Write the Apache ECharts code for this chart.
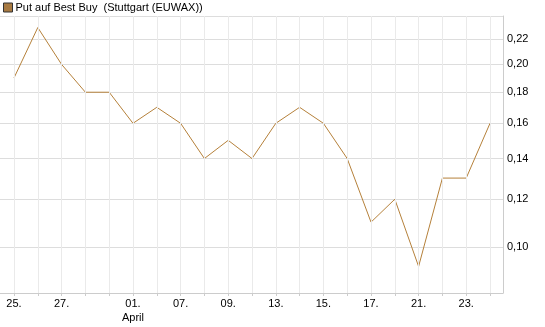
<!DOCTYPE html>
<html>
<head>
<meta charset="utf-8">
<script src="https://cdn.jsdelivr.net/npm/echarts@6/dist/echarts.min.js"></script>
<style>
  html, body { margin: 0; padding: 0; background: #fff; }
  #chart { width: 545px; height: 327px; }
</style>
</head>
<body>
<div id="chart"></div>
<script>
// Handelstage 25.03. - 24.04.
const days = ['25.', '26.', '27.', '30.', '31.', '01.', '02.', '07.', '08.', '09.', '10.',
  '13.', '14.', '15.', '16.', '17.', '20.', '21.', '22.', '23.', '24.'];
const prices = [0.19, 0.23, 0.20, 0.18, 0.18, 0.16, 0.17, 0.16, 0.14, 0.15, 0.14,
  0.16, 0.17, 0.16, 0.14, 0.11, 0.12, 0.093, 0.13, 0.13, 0.16];
// beschriftete Tage (Index in days)
const labelIdx = [0, 2, 5, 7, 9, 11, 13, 15, 17, 19];
const yTicks = [0.10, 0.12, 0.14, 0.16, 0.18, 0.20, 0.22];
const seriesName = 'Put auf Best Buy  (Stuttgart (EUWAX))';

const lg = Math.log10;
const chart = echarts.init(document.getElementById('chart'));

chart.setOption({
  animation: false,
  textStyle: { fontFamily: 'Liberation Sans, Arial, sans-serif' },
  legend: {
    left: 3, top: 2, padding: 0,
    icon: 'rect',
    itemWidth: 9, itemHeight: 9, itemGap: 4,
    textStyle: { fontSize: 11, color: '#000', padding: [0, 0, 0, -2] },
    itemStyle: { color: '#a87a42', borderColor: '#333', borderWidth: 1 },
    data: [seriesName]
  },
  grid: { left: 0, right: 42, top: 16, bottom: 34 },
  xAxis: {
    type: 'value',
    min: -0.588, max: 20.546,
    axisLine: { show: true, onZero: false, lineStyle: { color: '#ccc', width: 1 } },
    axisTick: {
      show: true, length: 3, inside: false,
      customValues: days.map((d, i) => i),
      lineStyle: { color: '#ccc' }
    },
    axisLabel: {
      customValues: labelIdx,
      fontSize: 11, color: '#000', margin: 4, lineHeight: 14,
      formatter: v => {
        const t = days[Math.round(v)];
        return t === '01.' ? t + '\nApril' : t;
      }
    },
    splitLine: { show: false }
  },
  yAxis: {
    type: 'value',
    position: 'right',
    min: lg(0.0841), max: lg(0.2403),
    axisLine: { show: true, onZero: false, lineStyle: { color: '#ccc', width: 1 } },
    axisTick: { show: false, customValues: yTicks.map(lg) },
    axisLabel: {
      customValues: yTicks.map(lg),
      fontSize: 11, color: '#000', margin: 4,
      formatter: v => Math.pow(10, v).toFixed(2).replace('.', ',')
    },
    splitLine: { show: true, lineStyle: { color: '#ddd', width: 1 } }
  },
  series: [{
    // senkrechte Gitterlinien je Handelstag
    type: 'line',
    data: [],
    silent: true,
    z: 1,
    markLine: {
      silent: true,
      symbol: 'none',
      label: { show: false },
      lineStyle: { color: '#eaeaea', width: 1, type: 'solid' },
      data: days.map((d, i) => ({ xAxis: i }))
    }
  }, {
    name: seriesName,
    type: 'line',
    z: 3,
    data: prices.map((p, i) => [i, lg(p)]),
    symbol: 'none',
    lineStyle: { color: '#b5803a', width: 1 },
    itemStyle: { color: '#a87a42' }
  }],
  graphic: [{
    type: 'line',
    shape: { x1: 0, y1: 16.5, x2: 503, y2: 16.5 },
    style: { stroke: '#ddd', lineWidth: 1 }
  }]
});
</script>
</body>
</html>
